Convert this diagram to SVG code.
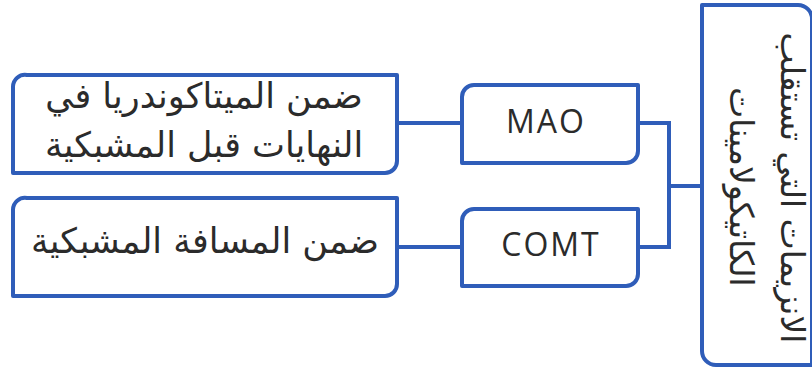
<svg xmlns="http://www.w3.org/2000/svg" width="812" height="369" viewBox="0 0 812 369">
<style>
.box{fill:#fff;stroke:#2f5db9;stroke-width:4;stroke-linejoin:round}
.wire{fill:none;stroke:#2f5db9;stroke-width:4}
.ar{font-family:"DejaVu Sans",sans-serif;font-size:35px;fill:#2b2b2b;text-anchor:middle}
.rt{font-size:33px}
.en{font-family:"Open Sans","Noto Sans","Liberation Sans",sans-serif;font-size:32px;letter-spacing:2px;fill:#2b2b2b;text-anchor:middle}
</style>
<rect width="812" height="369" fill="#fff"/>
<g id="connectors">
<path class="wire" d="M397 123H462M397 247H462M638 123H669V247H638M669 186H702"/>
</g>
<g id="root">
<path class="box" d="M702 5H798A14 14 0 0 1 812 19V365H716A14 14 0 0 1 702 351Z"/>
<text class="ar rt" direction="rtl" transform="translate(781 188) rotate(90)">الانزيمات التي تستقلب</text>
<text class="ar rt" direction="rtl" transform="translate(730 187) rotate(90)">الكاتيكولامينات</text>
</g>
<g id="mao">
<path class="box" d="M474 85H638V151A12 12 0 0 1 626 163H462V97A12 12 0 0 1 474 85Z"/>
<text class="en" x="546" y="133">MAO</text>
</g>
<g id="comt">
<path class="box" d="M474 209H638V274A12 12 0 0 1 626 286H462V221A12 12 0 0 1 474 209Z"/>
<text class="en" x="551" y="256">COMT</text>
</g>
<g id="mito">
<path class="box" d="M27 75H397V161A12 12 0 0 1 385 173H13V87A12 12 0 0 1 27 75Z"/>
<text class="ar" direction="rtl" x="204" y="108">ضمن الميتاكوندريا في</text>
<text class="ar" direction="rtl" x="204" y="157">النهايات قبل المشبكية</text>
</g>
<g id="synapse">
<path class="box" d="M27 198H397V284A12 12 0 0 1 385 296H13V210A12 12 0 0 1 27 198Z"/>
<text class="ar" direction="rtl" x="205" y="253">ضمن المسافة المشبكية</text>
</g>
</svg>
